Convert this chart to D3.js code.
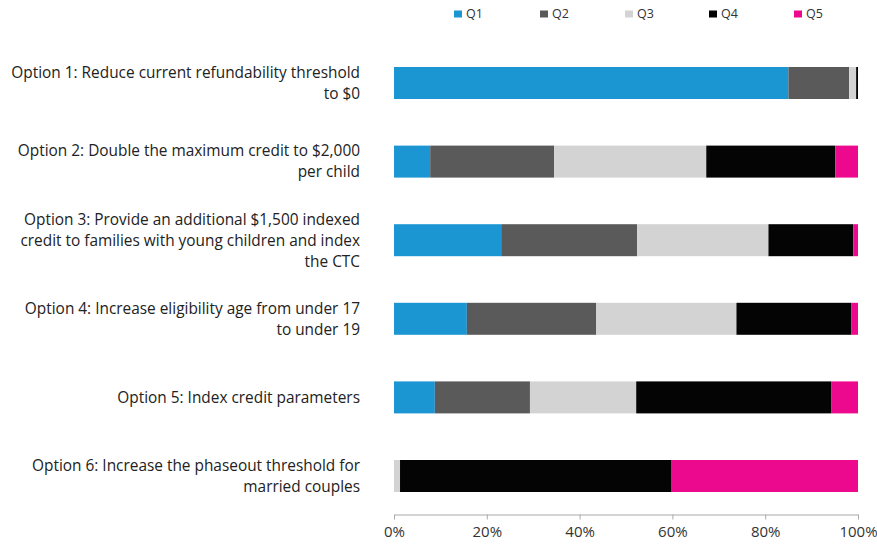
<!DOCTYPE html>
<html><head><meta charset="utf-8">
<script src="https://cdn.jsdelivr.net/npm/d3@7"></script>
<style>body{margin:0;background:#fff}</style>
</head><body>
<svg id="c" width="877" height="544"></svg>
<script>
const categories = [
  "Option 1: Reduce current refundability threshold|to $0",
  "Option 2: Double the maximum credit to $2,000|per child",
  "Option 3: Provide an additional $1,500 indexed|credit to families with young children and index|the CTC",
  "Option 4: Increase eligibility age from under 17|to under 19",
  "Option 5: Index credit parameters",
  "Option 6: Increase the phaseout threshold for|married couples"
];
const seriesNames = ["Q1","Q2","Q3","Q4","Q5"];
const q1 = [85.0, 7.8, 23.1, 15.7, 8.8, 0];
const q2 = [13.1, 26.7, 29.3, 27.9, 20.5, 0];
const q3 = [1.5, 32.8, 28.3, 30.2, 22.9, 1.3];
const q4 = [0.4, 27.8, 18.3, 24.8, 42.0, 58.4];
const q5 = [0.0, 4.9, 1.0, 1.4, 5.8, 40.3];
const xTicks = [0, 20, 40, 60, 80, 100];
const colors = ["#1c95d3","#5a5a5a","#d3d3d3","#040404","#ec098d"];

const rows = categories.map((c,i)=>({cat:c, Q1:q1[i], Q2:q2[i], Q3:q3[i], Q4:q4[i], Q5:q5[i]}));
const stack = d3.stack().keys(seriesNames)(rows);

const svg = d3.select("#c");
const font = "'Open Sans', sans-serif";
const x = d3.scaleLinear().domain([0,100]).range([394, 858]);
const y = d3.scaleBand().domain(categories).range([43.7, 515.3]).paddingInner(0.593).paddingOuter(0.2965);
const color = d3.scaleOrdinal().domain(seriesNames).range(colors);

svg.append("g").selectAll("g").data(stack).join("g")
  .attr("fill", d=>color(d.key))
  .selectAll("rect").data(d=>d).join("rect")
  .attr("x", d=>x(d[0])).attr("width", d=>Math.max(0, x(d[1])-x(d[0])))
  .attr("y", d=>y(d.data.cat)).attr("height", y.bandwidth());

// axis
const ax = svg.append("g").attr("transform","translate(0,514.5)")
  .call(d3.axisBottom(x).tickValues(xTicks).tickFormat(d=>d+"%").tickSize(5).tickSizeOuter(0));
ax.select(".domain").attr("stroke","#aaa").attr("stroke-width",1.2);
ax.selectAll(".tick line").attr("stroke","#aaa");
ax.selectAll(".tick text").attr("fill","#333").attr("font-family",font).attr("font-size","15px").attr("dy","0.95em");

// category labels
const lh = 21;
categories.forEach(c=>{
  const lines = c.split("|");
  const cy = y(c) + y.bandwidth()/2;
  const t = svg.append("text").attr("text-anchor","end").attr("fill","#222")
    .attr("font-family",font).attr("font-size","15.4px");
  lines.forEach((l,i)=>{
    t.append("tspan").attr("x",360)
     .attr("y", cy + (i - (lines.length-1)/2)*lh).attr("dy","0.35em").text(l);
  });
});

// legend
const lx = [454, 540, 625, 709, 794];
seriesNames.forEach((s,i)=>{
  svg.append("rect").attr("x",lx[i]).attr("y",10.5).attr("width",8).attr("height",7).attr("fill",colors[i]);
  svg.append("text").attr("x",lx[i]+12).attr("y",14).attr("dy","0.35em")
    .attr("font-family",font).attr("font-size","12.5px").attr("fill","#333").text(s);
});
</script>
</body></html>
